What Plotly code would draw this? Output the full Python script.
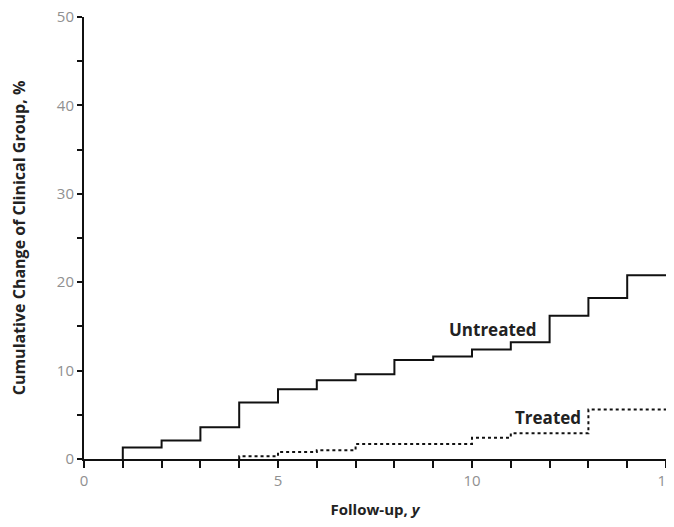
import plotly.graph_objects as go

# Untreated cumulative step data (years, %)
untreated_years = [1, 1, 2, 3, 4, 5, 6, 7, 8, 9, 10, 11, 12, 13, 14, 15]
untreated_pct = [0, 1.3, 2.1, 3.6, 6.4, 7.9, 8.9, 9.6, 11.2, 11.6, 12.4, 13.2, 16.2, 18.2, 20.8, 20.8]

# Treated cumulative step data (years, %)
treated_years = [4, 4, 5, 6, 7, 10, 11, 13, 15]
treated_pct = [0, 0.3, 0.8, 1.0, 1.7, 2.4, 2.9, 5.6, 5.6]

x_ticks = [0, 5, 10, 15]
y_ticks = [0, 10, 20, 30, 40, 50]

FONT = "Open Sans"

fig = go.Figure()
fig.add_trace(go.Scatter(
    x=untreated_years, y=untreated_pct, mode="lines", line_shape="hv",
    line=dict(color="#111111", width=2), name="Untreated", showlegend=False,
    cliponaxis=False,
))
fig.add_trace(go.Scatter(
    x=treated_years, y=treated_pct, mode="lines", line_shape="hv",
    line=dict(color="#111111", width=2, dash="dot"), name="Treated", showlegend=False,
    cliponaxis=False,
))

fig.add_annotation(x=11.72, y=14.7, text="<b>Untreated</b>", showarrow=False,
                   xanchor="right", font=dict(family=FONT, size=17, color="#222222"))
fig.add_annotation(x=12.86, y=4.64, text="<b>Treated</b>", showarrow=False,
                   xanchor="right", font=dict(family=FONT, size=17, color="#222222"))

# page body has an 8px margin, so the figure is sized/offset to compensate
fig.update_layout(
    width=674, height=511,
    margin=dict(l=76, r=16, t=9, b=60),
    paper_bgcolor="white", plot_bgcolor="white",
    font=dict(family=FONT, color="#222222"),
    xaxis=dict(
        range=[0, 15], tickvals=x_ticks, ticktext=[str(v) for v in x_ticks],
        automargin=False, ticklabeloverflow="allow",
        showgrid=False, zeroline=False, showline=True, linecolor="#111111", linewidth=2,
        ticks="outside", ticklen=7, tickwidth=2, tickcolor="#111111",
        minor=dict(dtick=1, ticks="outside", ticklen=7, tickwidth=2, tickcolor="#111111"),
        tickfont=dict(size=15, color="#909090"),
        title=dict(text="<b>Follow-up, <i>y</i></b>", font=dict(size=15, color="#222222"), standoff=27),
    ),
    yaxis=dict(
        range=[0, 50], tickvals=y_ticks, ticktext=[str(v) for v in y_ticks],
        automargin=False, ticklabeloverflow="allow",
        showgrid=False, zeroline=False, showline=True, linecolor="#111111", linewidth=2,
        ticks="outside", ticklen=5, tickwidth=2, tickcolor="#111111",
        minor=dict(dtick=5, ticks="outside", ticklen=5, tickwidth=2, tickcolor="#111111"),
        tickfont=dict(size=15, color="#909090"),
        title=dict(text="<b>Cumulative Change of Clinical Group, %</b>",
                   font=dict(size=16, color="#222222"), standoff=27),
    ),
)

fig.write_html("out.html")
